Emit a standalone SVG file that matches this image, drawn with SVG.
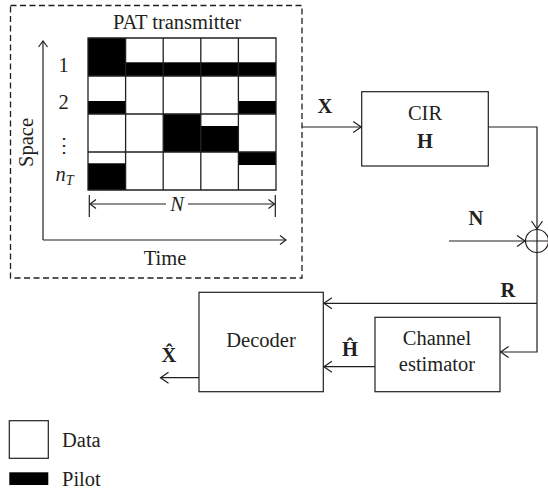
<svg xmlns="http://www.w3.org/2000/svg" width="548" height="492" viewBox="0 0 548 492">
  <defs>
    <style>
      text { font-family: "Liberation Serif", "Times New Roman", serif; font-size: 20.5px; fill: #231f20; }
      .c { text-anchor: middle; }
      .b { font-weight: bold; }
      .i { font-style: italic; }
      .ln { stroke: #231f20; stroke-width: 1.2; fill: none; }
      .box { stroke: #231f20; stroke-width: 1.2; fill: #fff; }
      .grid { stroke: #231f20; stroke-width: 1.3; fill: none; }
      .pilot { fill: #000; }
      .ah { stroke: #231f20; stroke-width: 1.2; fill: none; }
    </style>
    <marker id="arr" markerUnits="userSpaceOnUse" markerWidth="12" markerHeight="14" refX="9" refY="7" orient="auto">
      <path d="M1,1.5 L9,7 L1,12.5" class="ah"/>
    </marker>
    <marker id="arrS" markerUnits="userSpaceOnUse" markerWidth="10" markerHeight="12" refX="7" refY="6" orient="auto-start-reverse">
      <path d="M1,1.5 L7,6 L1,10.5" class="ah"/>
    </marker>
  </defs>

  <!-- PAT transmitter -->
  <g id="transmitter">
    <rect x="10.5" y="5.5" width="291.5" height="272.5" fill="none" stroke="#231f20" stroke-width="1.3" stroke-dasharray="6,3.5"/>
    <text class="c" x="177" y="29">PAT transmitter</text>

    <!-- pilot symbols -->
    <rect class="pilot" x="88" y="38" width="37.6" height="38"/>
    <rect class="pilot" x="125.6" y="62.3" width="150.4" height="13.7"/>
    <rect class="pilot" x="88" y="101" width="37.6" height="13"/>
    <rect class="pilot" x="238.4" y="101" width="37.6" height="13"/>
    <rect class="pilot" x="163.2" y="114" width="37.6" height="38"/>
    <rect class="pilot" x="200.8" y="126" width="37.6" height="26"/>
    <rect class="pilot" x="88" y="163.3" width="37.6" height="26.7"/>
    <rect class="pilot" x="238.4" y="152" width="37.6" height="13"/>

    <!-- space-time grid -->
    <path class="grid" d="M88,38 H276 V190 H88 Z M125.6,38 V190 M163.2,38 V190 M200.8,38 V190 M238.4,38 V190 M88,76 H276 M88,114 H276 M88,152 H276"/>

    <!-- antenna labels -->
    <text class="c" x="63.5" y="72">1</text>
    <text class="c" x="63.5" y="109">2</text>
    <text class="c" x="64" y="152" style="font-family: 'DejaVu Serif', serif; font-size: 20px;">⋮</text>
    <text class="i" x="55.5" y="181">n<tspan font-size="14" dy="4">T</tspan></text>

    <!-- axes -->
    <path class="ln" d="M43,240 V41" marker-end="url(#arrS)"/>
    <path class="ln" d="M43,240 H286" marker-end="url(#arrS)"/>
    <text class="c" transform="translate(33,142.5) rotate(-90)">Space</text>
    <text class="c" x="165" y="265">Time</text>

    <!-- frame length -->
    <path class="ln" d="M89.3,195 V217 M275.3,195 V217"/>
    <path class="ln" d="M90,204 H166" marker-start="url(#arrS)"/>
    <path class="ln" d="M188,204 H274.5" marker-end="url(#arrS)"/>
    <text class="c i" x="177" y="211">N</text>
  </g>

  <!-- channel impulse response -->
  <g id="cir">
    <rect class="box" x="361.7" y="91.7" width="126.6" height="74.3"/>
    <text class="c" x="425" y="120">CIR</text>
    <text class="c b" x="425" y="148">H</text>
  </g>

  <!-- noise adder -->
  <g id="adder">
    <circle cx="537" cy="241" r="11.5" fill="#fff" stroke="#231f20" stroke-width="1.2"/>
    <path class="ln" d="M525.5,241 H548.5 M537,229.5 V252.5"/>
  </g>

  <!-- decoder -->
  <g id="decoder">
    <rect class="box" x="199" y="292.3" width="124.3" height="99.4"/>
    <text class="c" x="261" y="347">Decoder</text>
  </g>

  <!-- channel estimator -->
  <g id="estimator">
    <rect class="box" x="375" y="317.3" width="125" height="74.4"/>
    <text class="c" x="437" y="345">Channel</text>
    <text class="c" x="437" y="371">estimator</text>
  </g>

  <!-- legend -->
  <g id="legend">
    <rect class="box" x="9.3" y="420.7" width="39" height="37.6"/>
    <text x="62" y="447">Data</text>
    <rect class="pilot" x="9.3" y="472.3" width="39" height="12.7"/>
    <text x="62" y="486">Pilot</text>
  </g>

  <!-- signal connectors -->
  <g id="connectors">
    <path class="ln" d="M302,127 H361.2" marker-end="url(#arr)"/>
    <text class="c b" x="325" y="113">X</text>

    <path class="ln" d="M488.3,127 H537 V229" marker-end="url(#arr)"/>

    <path class="ln" d="M449,241 H525" marker-end="url(#arr)"/>
    <text class="c b" x="476" y="225">N</text>

    <path class="ln" d="M537,252.5 V352 H500.6" marker-end="url(#arr)"/>
    <path class="ln" d="M537,303.3 H323.9" marker-end="url(#arr)"/>
    <text class="c b" x="508" y="297">R</text>

    <path class="ln" d="M375,366.7 H323.9" marker-end="url(#arr)"/>
    <text class="c b" x="350" y="356">Ĥ</text>

    <path class="ln" d="M199,377.7 H160.5" marker-end="url(#arr)"/>
    <text class="c b" x="169" y="362">X̂</text>
  </g>
</svg>
